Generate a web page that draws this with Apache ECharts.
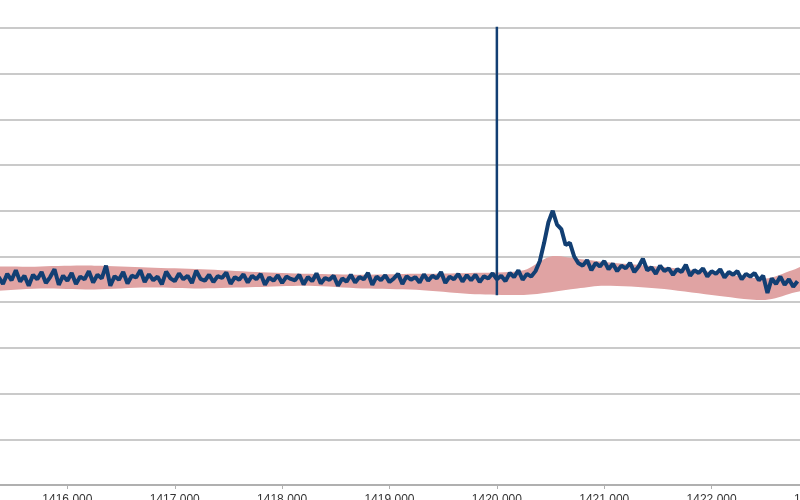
<!DOCTYPE html>
<html>
<head>
<meta charset="utf-8">
<script src="https://cdn.jsdelivr.net/npm/echarts@6/dist/echarts.min.js"></script>
<style>html,body{margin:0;padding:0;background:#fff;overflow:hidden;width:800px;height:500px}#chart{width:859px;height:500px;margin-left:-40px}</style>
</head>
<body>
<div id="chart"></div>
<script>
// signal sampled every 0.04 from 1415.36
var sigStart = 1415.36, sigStep = 0.04;
var sigY = [
  4.55,4.40,4.62,4.48,4.70,4.45,4.58,4.36,4.60,4.50,
  4.66,4.42,4.55,4.72,4.38,4.58,4.47,4.64,4.40,4.56,
  4.50,4.68,4.43,4.60,4.52,4.80,4.36,4.57,4.49,4.66,
  4.41,4.58,4.54,4.70,4.44,4.61,4.48,4.56,4.39,4.67,
  4.52,4.46,4.63,4.50,4.58,4.42,4.69,4.51,4.47,4.60,
  4.44,4.57,4.53,4.65,4.40,4.55,4.49,4.61,4.43,4.58,
  4.50,4.62,4.38,4.54,4.47,4.59,4.42,4.56,4.51,4.48,
  4.60,4.39,4.55,4.46,4.63,4.41,4.53,4.49,4.58,4.36,
  4.52,4.45,4.60,4.43,4.55,4.50,4.64,4.38,4.56,4.48,
  4.59,4.44,4.52,4.62,4.40,4.57,4.49,4.55,4.43,4.61,
  4.47,4.58,4.52,4.66,4.42,4.56,4.50,4.62,4.45,4.59,
  4.48,4.60,4.44,4.57,4.52,4.63,4.50,4.58,4.46,4.64,4.55,4.70,4.49,4.62,4.56,4.68,
  4.90,5.30,5.75,6.00,5.70,5.60,5.25,5.30,5.00,4.85,4.80,4.92,4.70,4.86,4.78,
  4.90,4.72,4.84,4.68,4.80,4.74,4.86,4.66,4.78,4.95,
  4.70,4.76,4.62,4.80,4.68,4.74,4.60,4.72,4.66,4.82,
  4.58,4.70,4.64,4.74,4.56,4.68,4.62,4.72,4.54,4.66,
  4.60,4.68,4.50,4.62,4.56,4.64,4.48,4.58,4.20,4.52,
  4.40,4.56,4.38,4.50,4.34,4.46
];
// vertical spike
var spikeX = 1420.0, spikeTop = 11, spikeBottom = 4.15;
// pink band
var bandX = [1415.0,1415.75,1416.25,1416.75,1417.25,1417.75,1418.25,1418.75,1419.25,1419.75,1420.25,1420.5,1420.75,1421.0,1421.5,1422.0,1422.5,1422.75,1423.0];
var bandLow = [4.27,4.30,4.28,4.32,4.30,4.33,4.36,4.30,4.27,4.18,4.16,4.22,4.30,4.36,4.30,4.16,4.05,4.20,4.40];
var bandHigh = [4.70,4.78,4.80,4.76,4.72,4.66,4.62,4.60,4.62,4.64,4.70,5.00,4.95,4.88,4.78,4.66,4.52,4.70,4.90];

var sigData = sigY.map(function (v, i) { return [sigStart + i * sigStep, v]; });

var chart = echarts.init(document.getElementById('chart'));
chart.setOption({
  animation: false,
  grid: {left: 0, right: 0, top: 28, bottom: 15, containLabel: false, outerBoundsMode: 'none'},
  xAxis: {
    type: 'value', min: 1415, max: 1423, interval: 1,
    splitLine: {show: false},
    axisLine: {lineStyle: {color: '#b0b0b0', width: 2}},
    axisTick: {show: true, length: 4, lineStyle: {color: '#b0b0b0'}},
    axisLabel: {margin: 9, color: '#333', fontSize: 12, fontFamily: 'Liberation Sans',
      formatter: function (v) { return v.toFixed(3); }}
  },
  yAxis: {
    type: 'value', min: 0, max: 10, interval: 1,
    axisLabel: {show: false}, axisLine: {show: false}, axisTick: {show: false},
    splitLine: {lineStyle: {color: '#b8b8b8', width: 1.5}}
  },
  series: [
    {type: 'custom', data: [0], z: 1,
      renderItem: function (params, api) {
        var pts = [];
        for (var i = 0; i < bandX.length; i++) pts.push(api.coord([bandX[i], bandHigh[i]]));
        for (var j = bandX.length - 1; j >= 0; j--) pts.push(api.coord([bandX[j], bandLow[j]]));
        return {type: 'polygon', shape: {points: pts, smooth: 0.3}, style: {fill: '#e0a3a3'}};
      }},
    {type: 'line', data: sigData, symbol: 'none', z: 2,
      lineStyle: {color: '#123f73', width: 4}},
    {type: 'line', data: [[spikeX, spikeTop], [spikeX, spikeBottom]], symbol: 'none', z: 3,
      lineStyle: {color: '#123f73', width: 2.5}}
  ]
});
</script>
</body>
</html>
